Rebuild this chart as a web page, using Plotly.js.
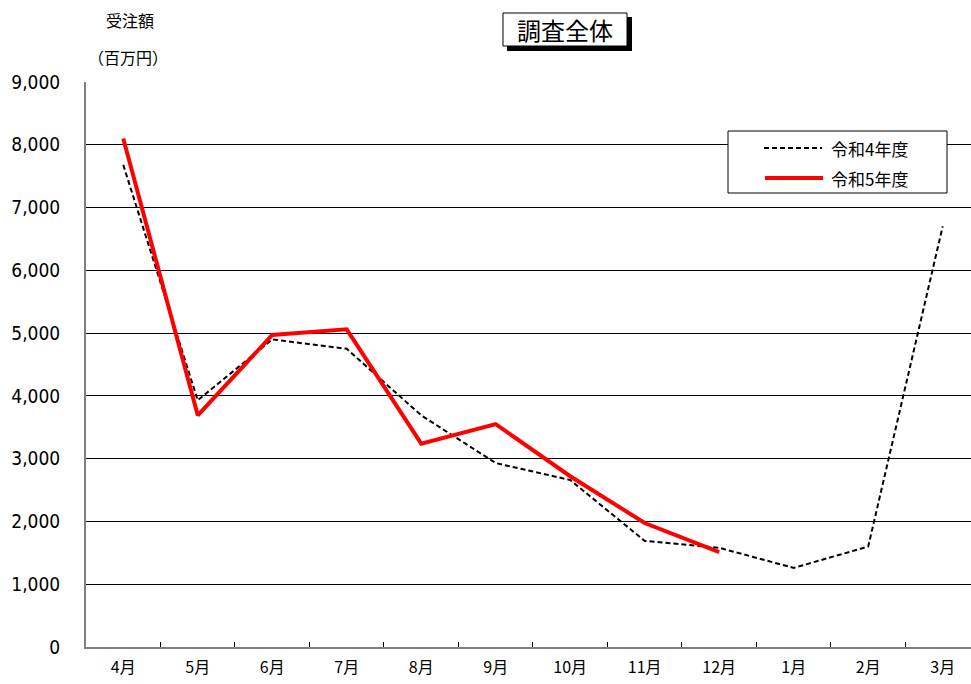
<!DOCTYPE html>
<html>
<head>
<meta charset="utf-8">
<script src="https://cdn.plot.ly/plotly-3.0.1.min.js"></script>
<style>html,body{margin:0;padding:0;background:#fff;}#chart{width:971px;height:684px;}</style>
</head>
<body>
<div id="chart"></div>
<script>
const months = ["4月","5月","6月","7月","8月","9月","10月","11月","12月","1月","2月","3月"];
const r4Name = "令和4年度";
const r4Values = [7680, 3930, 4900, 4750, 3690, 2930, 2660, 1690, 1580, 1260, 1600, 6700];
const r5Name = "令和5年度";
const r5Values = [8100, 3690, 4970, 5060, 3240, 3550, 2720, 1975, 1510];
const yTicks = [0,1000,2000,3000,4000,5000,6000,7000,8000,9000];
const yTickText = ["0","1,000","2,000","3,000","4,000","5,000","6,000","7,000","8,000","9,000"];

const FONT = "'Noto Sans CJK JP', 'DejaVu Sans', sans-serif";
const NUMFONT = "'Liberation Sans Narrow', 'DejaVu Sans Condensed', 'Noto Sans CJK JP', sans-serif";

// pixel -> paper helpers (plot area: x 86..971, y 82..647)
const px = v => (v - 86) / 885;
const py = v => (647 - v) / 565;

const r4Line = {color: "#000", width: 2, dash: "5px,3px"};
const r5Line = {color: "#ff0000", width: 4};

const traces = [
  {x: months, y: r4Values, name: r4Name, type: "scatter", mode: "lines", line: r4Line, showlegend: false},
  {x: months.slice(0, r5Values.length), y: r5Values, name: r5Name, type: "scatter", mode: "lines", line: r5Line, showlegend: false}
];

const layout = {
  width: 971, height: 684,
  margin: {l: 86, r: 0, t: 82, b: 37},
  paper_bgcolor: "#fff", plot_bgcolor: "#fff",
  font: {family: FONT, size: 15, color: "#000"},
  showlegend: false,
  xaxis: {
    type: "category", range: [-0.5, 11.38],
    showgrid: false, showline: true, linecolor: "#808080", linewidth: 2,
    ticks: "inside", ticklen: 5, tickcolor: "#000", tickson: "boundaries",
    ticklabelstandoff: 5,
    tickfont: {family: FONT, size: 16}, fixedrange: true
  },
  yaxis: {
    range: [0, 9000], tickvals: yTicks, ticktext: yTickText,
    showgrid: true, gridcolor: "#000", gridwidth: 1,
    showline: true, linecolor: "#808080", linewidth: 2,
    ticks: "", ticklabelstandoff: 20, zeroline: false,
    tickfont: {family: NUMFONT, size: 19}, fixedrange: true
  },
  shapes: [
    {type: "rect", xref: "paper", yref: "paper", x0: px(507), x1: px(632), y0: py(51), y1: py(17),
     fillcolor: "#000", line: {width: 0}},
    {type: "rect", xref: "paper", yref: "paper", x0: px(503), x1: px(627), y0: py(46), y1: py(13),
     fillcolor: "#fff", line: {color: "#000", width: 1}},
    {type: "rect", xref: "paper", yref: "paper", x0: px(728), x1: px(947), y0: py(193), y1: py(131),
     fillcolor: "#fff", line: {color: "#000", width: 1}, layer: "above"},
    {type: "line", xref: "paper", yref: "paper", x0: px(764), x1: px(822), y0: py(148), y1: py(148),
     line: r4Line, layer: "above"},
    {type: "line", xref: "paper", yref: "paper", x0: px(765), x1: px(823), y0: py(178), y1: py(178),
     line: r5Line, layer: "above"}
  ],
  annotations: [
    {text: "調査全体", xref: "paper", yref: "paper", x: px(565), y: py(30), showarrow: false,
     xanchor: "center", yanchor: "middle", font: {family: FONT, size: 24, color: "#000"}},
    {text: "受注額", xref: "paper", yref: "paper", x: px(130), y: py(20), showarrow: false,
     xanchor: "center", yanchor: "middle", font: {family: FONT, size: 16}},
    {text: "（百万円）", xref: "paper", yref: "paper", x: px(128), y: py(57), showarrow: false,
     xanchor: "center", yanchor: "middle", font: {family: FONT, size: 16}},
    {text: r4Name, xref: "paper", yref: "paper", x: px(829), y: py(148), showarrow: false,
     xanchor: "left", yanchor: "middle", font: {family: FONT, size: 17}},
    {text: r5Name, xref: "paper", yref: "paper", x: px(829), y: py(178), showarrow: false,
     xanchor: "left", yanchor: "middle", font: {family: FONT, size: 17}}
  ]
};

Plotly.newPlot("chart", traces, layout, {staticPlot: true, displayModeBar: false});
</script>
</body>
</html>
